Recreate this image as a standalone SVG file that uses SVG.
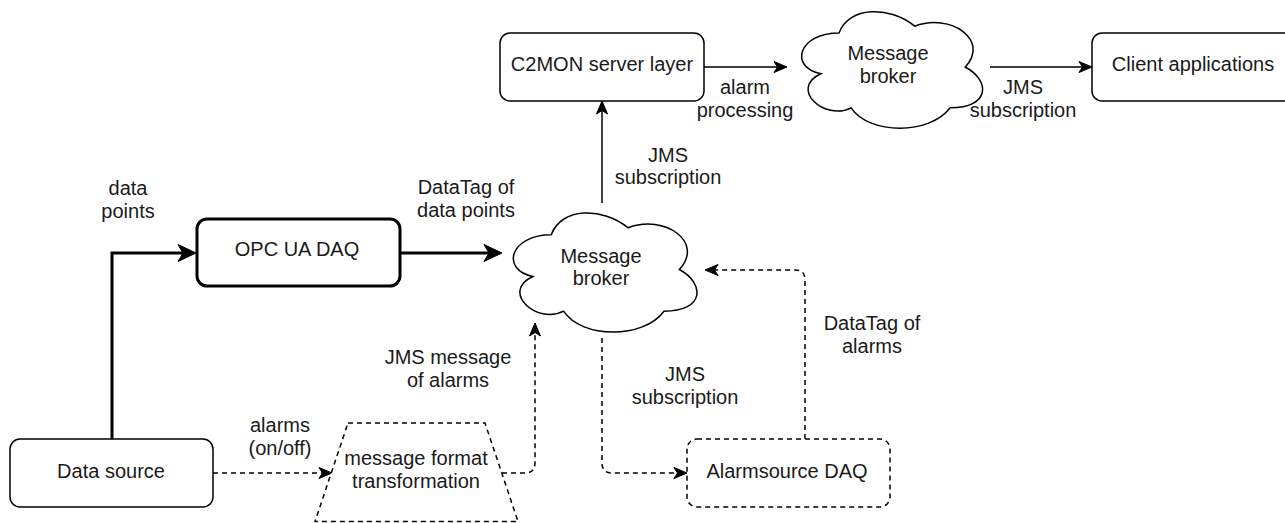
<svg xmlns="http://www.w3.org/2000/svg" width="1285" height="523" viewBox="0 0 1285 523">
<style>
.box{fill:#fff;stroke:#000;stroke-width:1.5}
.thick{stroke-width:3}
.dash{stroke-dasharray:5 4}
.cloud{fill:#fff;stroke:#000;stroke-width:1.5}
.c{fill:none;stroke:#000;stroke-width:1.5}
.ct{fill:none;stroke:#000;stroke-width:3}
.cd{fill:none;stroke:#000;stroke-width:1.5;stroke-dasharray:5 4}
text{font-family:"Liberation Sans",Arial,Helvetica,sans-serif;font-size:20px;fill:#1a1a1a;text-anchor:middle}
</style>
<defs>
<marker id="arr" markerUnits="userSpaceOnUse" markerWidth="20" markerHeight="20" refX="3.5" refY="0" orient="auto" overflow="visible">
<path d="M0,-5.5 L13,0 L0,5.5 L3.5,0 Z" fill="#000" stroke="#000" stroke-width="1" stroke-linejoin="miter"/>
</marker>
<marker id="arrT" markerUnits="userSpaceOnUse" markerWidth="30" markerHeight="30" refX="5" refY="0" orient="auto" overflow="visible">
<path d="M0,-8.5 L18,0 L0,8.5 L5,0 Z" fill="#000" stroke="#000" stroke-width="1"/>
</marker>
</defs>
<rect x="0" y="0" width="1285" height="523" fill="#fff"/>
<g id="connectors">
<path class="ct" d="M112,439 L112,253 L183,253" marker-end="url(#arrT)"/>
<path class="ct" d="M401,253 L489,253" marker-end="url(#arrT)"/>
<path class="c" d="M602,203 L602,110.5" marker-end="url(#arr)"/>
<path class="c" d="M704,67 L777.5,67" marker-end="url(#arr)"/>
<path class="c" d="M990,67 L1082.5,67" marker-end="url(#arr)"/>
<path class="cd" d="M213,473 L322.5,473" marker-end="url(#arr)"/>
<path class="cd" d="M502,473 L525,473 Q535,473 535,463 L535,332.5" marker-end="url(#arr)"/>
<path class="cd" d="M602,338 L602,463 Q602,473 612,473 L677.5,473" marker-end="url(#arr)"/>
<path class="cd" d="M805,439 L805,280 Q805,270 795,270 L714.5,270" marker-end="url(#arr)"/>
<text x="128" y="195">data</text><text x="128" y="218">points</text>
<text x="466" y="194">DataTag of</text><text x="466" y="217">data points</text>
<text x="668" y="162">JMS</text><text x="668" y="184">subscription</text>
<text x="745" y="94">alarm</text><text x="745" y="117">processing</text>
<text x="1023" y="94">JMS</text><text x="1023" y="117">subscription</text>
<text x="280" y="432">alarms</text><text x="280" y="455">(on/off)</text>
<text x="448" y="364">JMS message</text><text x="448" y="387">of alarms</text>
<text x="685" y="381">JMS</text><text x="685" y="404">subscription</text>
<text x="872" y="330">DataTag of</text><text x="872" y="353">alarms</text>
</g>
<g id="c2mon">
<rect class="box" x="500" y="33" width="204" height="68" rx="10"/>
<text x="602" y="71">C2MON server layer</text>
</g>
<g id="broker-top">
<path class="cloud" vector-effect="non-scaling-stroke" transform="translate(788.5,-1) scale(202,136)" d="M0.25,0.25 C0.05,0.25 0,0.5 0.16,0.55 C0,0.66 0.18,0.9 0.31,0.8 C0.4,1 0.7,1 0.8,0.8 C1,0.8 1,0.6 0.875,0.5 C1,0.3 0.8,0.1 0.625,0.2 C0.5,0.05 0.3,0.05 0.25,0.25 Z"/>
<text x="888" y="60">Message</text><text x="888" y="83">broker</text>
</g>
<g id="client">
<rect class="box" x="1092" y="33" width="204" height="68" rx="10"/>
<text x="1193" y="71">Client applications</text>
</g>
<g id="opc">
<rect class="box thick" x="197" y="219" width="203" height="67" rx="10"/>
<text x="297" y="256">OPC UA DAQ</text>
</g>
<g id="broker-mid">
<path class="cloud" vector-effect="non-scaling-stroke" transform="translate(500,200) scale(205,139)" d="M0.25,0.25 C0.05,0.25 0,0.5 0.16,0.55 C0,0.66 0.18,0.9 0.31,0.8 C0.4,1 0.7,1 0.8,0.8 C1,0.8 1,0.6 0.875,0.5 C1,0.3 0.8,0.1 0.625,0.2 C0.5,0.05 0.3,0.05 0.25,0.25 Z"/>
<text x="601" y="263">Message</text><text x="601" y="285">broker</text>
</g>
<g id="datasource">
<rect class="box" x="10" y="439" width="203" height="68" rx="10"/>
<text x="111" y="478">Data source</text>
</g>
<g id="transform">
<path class="box dash" d="M348,423 L485,423 L518,521.5 L315,521.5 Z"/>
<text x="416" y="465">message format</text><text x="416" y="488">transformation</text>
</g>
<g id="alarmsource">
<rect class="box dash" x="687" y="439" width="203" height="68" rx="10"/>
<text x="787" y="478">Alarmsource DAQ</text>
</g>
</svg>
